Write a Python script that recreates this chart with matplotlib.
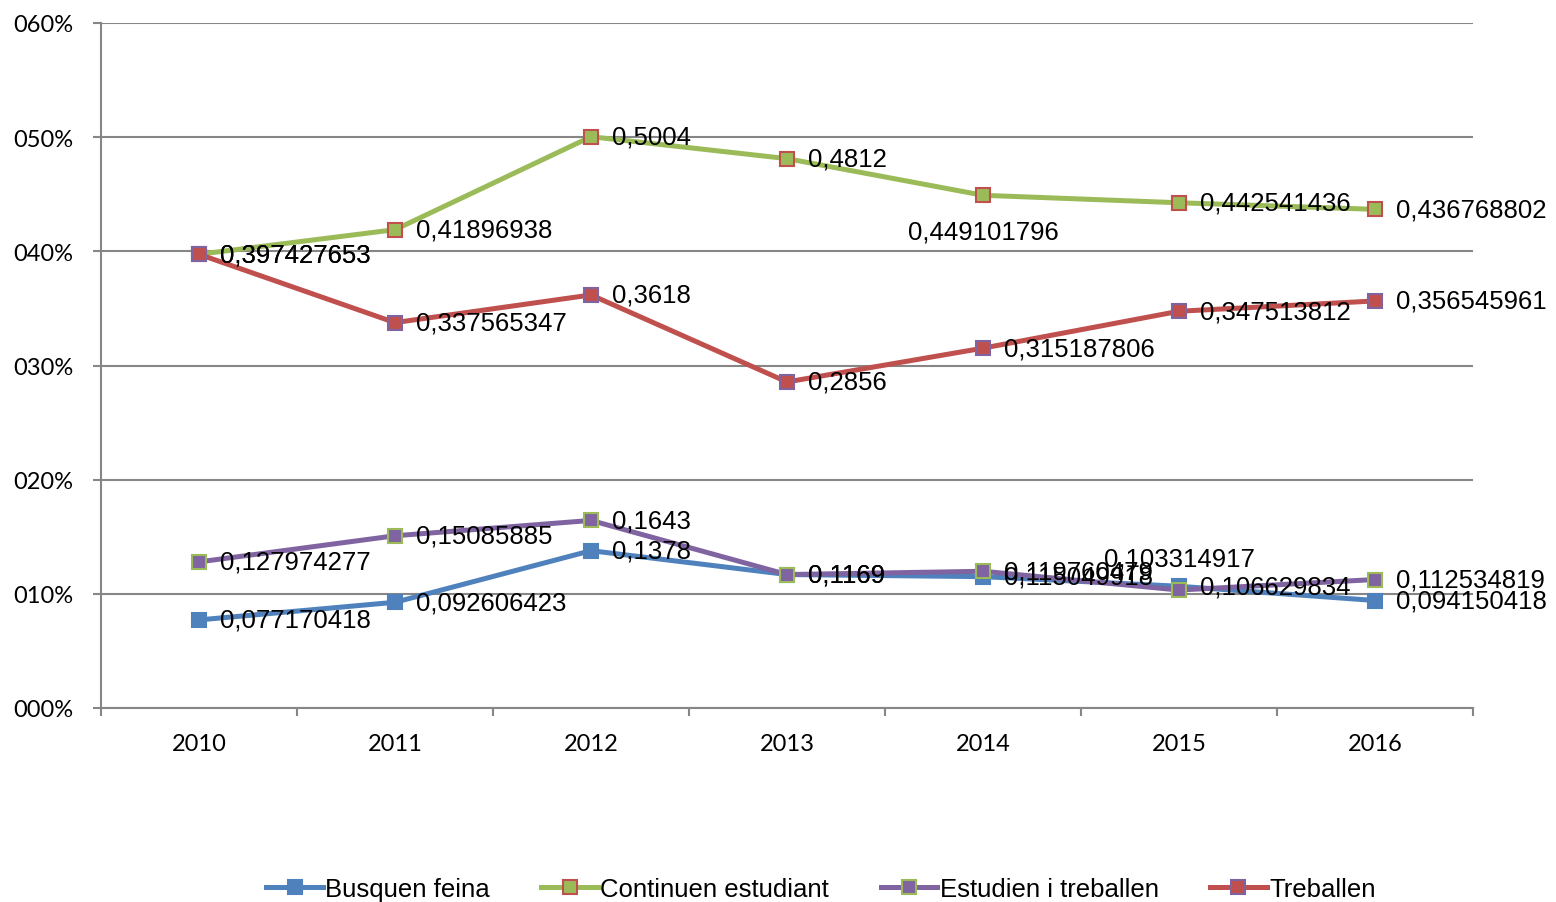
import matplotlib
matplotlib.use('Agg')
import matplotlib.pyplot as plt
from matplotlib.ticker import FixedLocator, FuncFormatter

years = ['2010', '2011', '2012', '2013', '2014', '2015', '2016']

busquen = [0.077170418, 0.092606423, 0.1378, 0.1169, 0.115049918, 0.106629834, 0.094150418]
continuen = [0.397427653, 0.41896938, 0.5004, 0.4812, 0.449101796, 0.442541436, 0.436768802]
estudien = [0.127974277, 0.15085885, 0.1643, 0.1169, 0.119760479, 0.103314917, 0.112534819]
treballen = [0.397427653, 0.337565347, 0.3618, 0.2856, 0.315187806, 0.347513812, 0.356545961]

blue = '#4F81BD'
red = '#C0504D'
green = '#9BBB59'
purple = '#8064A2'

series = [
    ('Busquen feina', busquen, blue, blue, blue),
    ('Continuen estudiant', continuen, green, green, red),
    ('Estudien i treballen', estudien, purple, purple, green),
    ('Treballen', treballen, red, red, purple),
]

# label placement per series / point: 'r' right, 'b' below, 't' above
placement = {
    'Continuen estudiant': {4: 'b'},
    'Estudien i treballen': {5: 't'},
}

fig = plt.figure(figsize=(15.56, 9.03), dpi=100)
ax = fig.add_axes([101 / 1556, 1 - 709 / 903, (1473 - 101) / 1556, (709 - 24) / 903])

x = list(range(len(years)))
handles = []
for name, vals, lc, fc, ec in series:
    h, = ax.plot(x, vals, color=lc, lw=3.6, marker='s', markersize=10,
                 markerfacecolor=fc, markeredgecolor=ec, markeredgewidth=1.5,
                 label=name, zorder=3)
    handles.append(h)
    for i, v in enumerate(vals):
        txt = repr(v).replace('.', ',')
        pos = placement.get(name, {}).get(i, 'r')
        if pos == 'r':
            off, ha = (15, 0), 'left'
        elif pos == 'b':
            off, ha = (0, -26), 'center'
        else:
            off, ha = (0, 23), 'center'
        ax.annotate(txt, (i, v), xytext=off, textcoords='offset points',
                    ha=ha, va='center', fontsize=18.5,
                    family='Liberation Sans', zorder=4)

ax.set_xlim(-0.5, 6.5)
ax.set_ylim(0, 0.6)
ax.set_yticks([0, 0.1, 0.2, 0.3, 0.4, 0.5, 0.6])
ax.yaxis.set_major_formatter(FuncFormatter(lambda v, p: '%03d%%' % round(v * 100)))
ax.set_xticks(x)
ax.set_xticklabels(years)
ax.xaxis.set_minor_locator(FixedLocator([i - 0.5 for i in range(len(years) + 1)]))
ax.tick_params(axis='x', which='major', length=0, pad=18, labelsize=17)
ax.tick_params(axis='x', which='minor', length=6, color='#868686', width=1.5)
ax.tick_params(axis='y', length=6, color='#868686', width=1.5, labelsize=17, pad=14)
for lab in ax.get_xticklabels() + ax.get_yticklabels():
    lab.set_family('Lato')

ax.grid(axis='y', color='#868686', lw=1.5, zorder=0)
for s in ['top', 'right']:
    ax.spines[s].set_visible(False)
for s in ['left', 'bottom']:
    ax.spines[s].set_color('#868686')
    ax.spines[s].set_linewidth(1.5)

fig.legend(handles=handles, loc='center', bbox_to_anchor=(821 / 1556, 1 - 890 / 903), ncol=4,
           frameon=False, prop={'family': 'Liberation Sans', 'size': 18.5},
           handlelength=2.2, columnspacing=2.0, handletextpad=0.1)

fig.savefig('out.png', dpi=100)
